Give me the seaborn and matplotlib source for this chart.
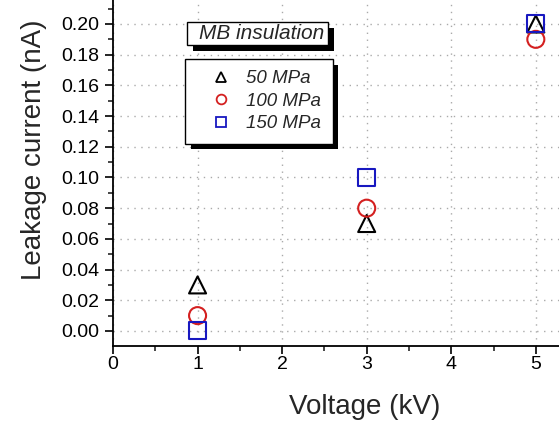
import matplotlib
matplotlib.use("Agg")
import matplotlib.pyplot as plt
import matplotlib.patheffects as pe
from matplotlib.patches import Rectangle
from matplotlib.ticker import MultipleLocator, FixedLocator, FormatStrFormatter
from matplotlib.lines import Line2D
import seaborn as sns
import pandas as pd

voltage = [1, 3, 5]
series_names = ["50 MPa", "100 MPa", "150 MPa"]
current_50 = [0.03, 0.07, 0.20]
current_100 = [0.01, 0.08, 0.19]
current_150 = [0.00, 0.10, 0.20]
x_ticks = [0, 1, 2, 3, 4, 5]
y_ticks = [0.00, 0.02, 0.04, 0.06, 0.08, 0.10, 0.12, 0.14, 0.16, 0.18, 0.20]

df = pd.DataFrame({
    "Voltage": voltage * 3,
    "Current": current_50 + current_100 + current_150,
    "Pressure": [series_names[0]] * 3 + [series_names[1]] * 3 + [series_names[2]] * 3,
})

sns.set_style("white")
plt.rcParams["font.family"] = ["Liberation Sans", "DejaVu Sans"]

W, H = 559, 421
fig = plt.figure(figsize=(W / 100, H / 100), dpi=100)
# axes extends past the right and top edges of the figure (clipped like the reference)
ax = fig.add_axes([113 / W, 75 / H, 504 / W, 392 / H])

palette = {"50 MPa": "black", "100 MPa": "#d42020", "150 MPa": "#1818c0"}
markers = {"50 MPa": "^", "100 MPa": "o", "150 MPa": "s"}

sns.scatterplot(data=df, x="Voltage", y="Current", hue="Pressure", style="Pressure",
                palette=palette, markers=markers, s=150, ax=ax, legend=False,
                linewidth=1.5, zorder=3, clip_on=False)
for coll in ax.collections:
    fc = coll.get_facecolors()
    coll.set_edgecolors(fc)
    coll.set_facecolors("none")

ax.set_xlim(0, 5.96)
ax.set_ylim(-0.0098, 0.2456)
ax.xaxis.set_major_locator(FixedLocator(x_ticks))
ax.xaxis.set_minor_locator(MultipleLocator(0.5))
ax.yaxis.set_major_locator(FixedLocator(y_ticks))
ax.yaxis.set_minor_locator(MultipleLocator(0.01))
ax.yaxis.set_major_formatter(FormatStrFormatter("%.2f"))
ax.tick_params(axis="both", which="major", direction="out", length=6, width=1.2,
               labelsize=14, bottom=True, left=True, colors="black")
ax.tick_params(axis="x", which="major", pad=1.5)
ax.tick_params(axis="y", which="major", pad=4)
ax.tick_params(axis="both", which="minor", direction="out", length=3.5, width=1.2,
               bottom=True, left=True)
for s in ["top", "right"]:
    ax.spines[s].set_visible(False)
for s in ["left", "bottom"]:
    ax.spines[s].set_color("black")
    ax.spines[s].set_linewidth(1.3)
ax.grid(True, which="major", linestyle=(0, (1, 4)), color="#aaaaaa", linewidth=1)
ax.set_axisbelow(True)

ax.set_xlabel("Voltage (kV)", fontsize=20, labelpad=14.5)
ax.set_ylabel("Leakage current (nA)", fontsize=20, labelpad=10)

handles = [Line2D([], [], linestyle="none", marker=markers[n], markersize=7,
                  markerfacecolor="none", markeredgecolor=palette[n], markeredgewidth=1.3)
           for n in series_names]
leg = ax.legend(handles, series_names, loc="upper left",
                bbox_to_anchor=(185 / W, 1 - 59 / H), bbox_transform=fig.transFigure,
                borderaxespad=0, frameon=True, fancybox=False,
                prop={"style": "italic", "size": 13.5},
                handletextpad=0.08, borderpad=0.6, labelspacing=0.29, handlelength=2.6)
frame = leg.get_frame()
frame.set_edgecolor("black")
frame.set_linewidth(1.0)
frame.set_alpha(1)
frame.set_path_effects([pe.SimplePatchShadow(offset=(4, -4), shadow_rgbFace="black", alpha=1), pe.Normal()])

# "MB insulation" label box with black drop shadow
box = Rectangle((187 / W, 1 - 45 / H), (328 - 187) / W, 23 / H, transform=fig.transFigure,
                facecolor="white", edgecolor="black", linewidth=1.0, zorder=5)
box.set_path_effects([pe.SimplePatchShadow(offset=(4, -4), shadow_rgbFace="black", alpha=1), pe.Normal()])
fig.add_artist(box)
fig.text(199 / W, 1 - 33.5 / H, "MB insulation", ha="left", va="center",
         fontsize=15, style="italic", zorder=6)

fig.savefig("out.png", dpi=100)
